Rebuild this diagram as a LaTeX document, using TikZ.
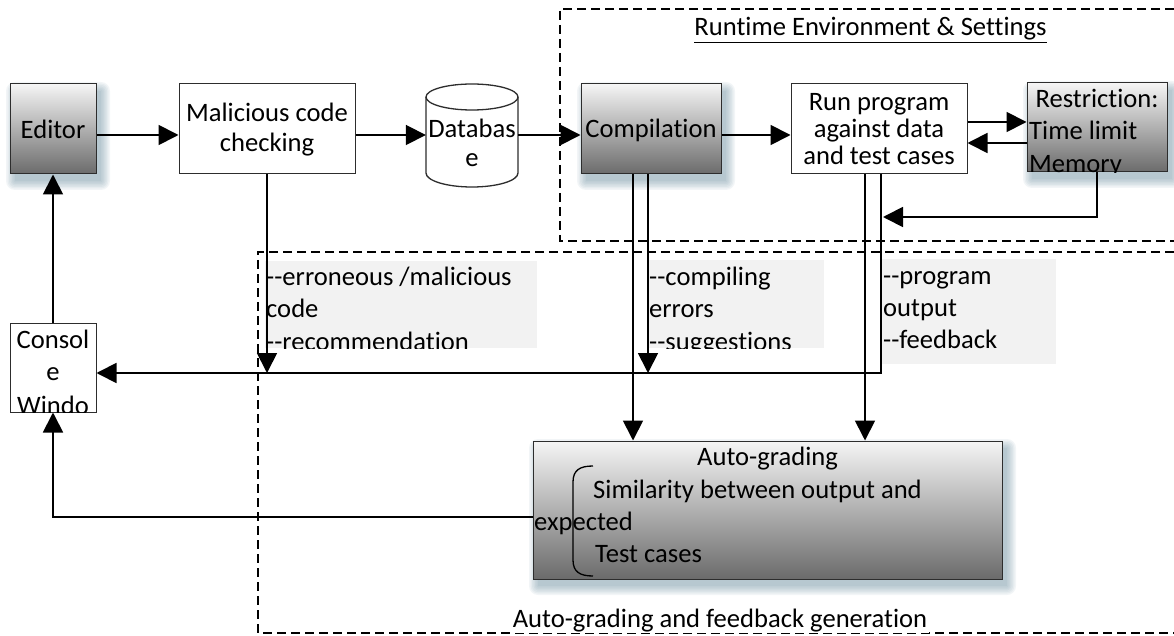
\documentclass[tikz,border=0pt]{standalone}
\usepackage{fontspec}
\setmainfont{Carlito}[Ligatures={TeXOff,CommonOff}]
\usetikzlibrary{arrows.meta,calc}

\definecolor{glow}{RGB}{90,130,150}
\definecolor{lblgray}{RGB}{242,242,242}
\definecolor{edge}{RGB}{45,45,45}

\tikzset{
  txt/.style={font=\fontsize{26.6}{31.5}\selectfont, inner sep=0pt},
  blk/.style={txt, draw=edge, line width=1pt, fill=white, rectangle},
  gblk/.style={blk, top color=white!96!black, bottom color=black!58},
  conn/.style={line width=1.8pt, -{Triangle[length=20pt,width=20pt]}},
  zone/.style={dash pattern=on 9pt off 5pt, line width=1.2pt},
  tag/.style={fill=lblgray, draw=none, rectangle, inner sep=0pt, anchor=north west},
}

% soft bluish drop shadow under a box given by its corners
\newcommand\glowshadow[4]{%
  \foreach \k in {0,1.5,...,9}{
    \fill[glow, opacity=0.075, rounded corners=\k pt]
      (#1+5-\k,#2+7-\k) rectangle (#3+5+\k,#4+7+\k);
  }}

\begin{document}
\begin{tikzpicture}[x=1pt,y=-1pt]
\useasboundingbox (0,0) rectangle (1174,636);
\fill[white] (0,0) rectangle (1174,636);

% dashed regions
\draw[zone] (1174,9) -| (560,241) -- (1174,241);
\draw[zone] (1174,252) -| (258,633) -- (1174,633);
\node[txt, anchor=base] (rtlabel) at (870.5,36) {\underline{Runtime Environment \& Settings}};
\node[txt, anchor=base, fill=white, inner sep=1.5pt] (aglabel) at (720,627) {Auto-grading and feedback generation};

% message panels
\node[tag, minimum width=272pt, minimum height=87pt] (n1) at (265,261) {};
\node[tag, minimum width=176pt, minimum height=88pt] (n2) at (648,260) {};
\node[tag, minimum width=174pt, minimum height=105pt] (n3) at (882,259) {};
\begin{scope}
  \clip (n1.north west) rectangle (n1.south east);
  \node[txt, anchor=base west] (n1a) at (266,285) {--erroneous /malicious};
  \node[txt, anchor=base west] (n1b) at (266,317) {code};
  \node[txt, anchor=base west] (n1c) at (266,350) {--recommendation};
\end{scope}
\begin{scope}
  \clip (n2.north west) rectangle (n2.south east);
  \node[txt, anchor=base west] (n2a) at (649,285) {--compiling};
  \node[txt, anchor=base west] (n2b) at (649,317) {errors};
  \node[txt, anchor=base west] (n2c) at (649,350) {--suggestions};
\end{scope}
\node[txt, anchor=base west] (n3a) at (883,284) {--program};
\node[txt, anchor=base west] (n3b) at (883,316) {output};
\node[txt, anchor=base west] (n3c) at (883,348) {--feedback};

% shadows of the shaded boxes
\glowshadow{10}{84}{96}{174}
\glowshadow{581}{84}{721}{174}
\glowshadow{1027}{83}{1167}{172}
\glowshadow{533}{441}{1002}{579}

% top row
\node[gblk, minimum width=86pt, minimum height=90pt] (editor) at (53,129) {\raisebox{-10pt}[0pt][0pt]{Editor}};
\node[blk, minimum width=176pt, minimum height=90pt] (mal) at (267,129) {};
\node[txt, anchor=base] (mal1) at (267,122) {Malicious code};
\node[txt, anchor=base] (mal2) at (267,152) {checking};

% database cylinder
\filldraw[fill=white, draw=edge, line width=1.3pt]
  (426,97) -- (426,173) arc[start angle=180, end angle=360, x radius=46pt, y radius=14pt]
  -- (518,97) arc[start angle=0, end angle=180, x radius=46pt, y radius=13pt] -- cycle;
\draw[edge, line width=1.3pt] (426,97) arc[start angle=180, end angle=360, x radius=46pt, y radius=13pt];
\node[rectangle, minimum width=92pt, minimum height=103pt, inner sep=0pt] (db) at (472,135.5) {};
\node[txt, anchor=base] (dbt1) at (472,138) {Databas};
\node[txt, anchor=base] (dbt2) at (472,167) {e};

\node[gblk, minimum width=140pt, minimum height=90pt] (comp) at (651,129) {\raisebox{-9pt}[0pt][0pt]{Compilation}};
\node[blk, minimum width=176pt, minimum height=90pt, align=center,
      font=\fontsize{26.6}{27}\selectfont] (run) at (879,129) {Run program\\against data\\and test cases};

\node[gblk, minimum width=140pt, minimum height=89pt] (restr) at (1097,127.5) {};
\begin{scope}
  \clip (restr.north west) rectangle (restr.south east);
  \node[txt, anchor=base] (rs1) at (1097,108) {Restriction:};
  \node[txt, anchor=base west] (rs2) at (1029,140) {Time limit};
  \node[txt, anchor=base west] (rs3) at (1029,173) {Memory};
\end{scope}

% console window
\node[blk, minimum width=86pt, minimum height=89pt] (console) at (53,367.5) {};
\begin{scope}
  \clip (console.north west) rectangle (console.south east);
  \node[txt, anchor=base] (cw1) at (53,348) {Consol};
  \node[txt, anchor=base] (cw2) at (53,380) {e};
  \node[txt, anchor=base] (cw3) at (53,414) {Windo};
\end{scope}

% auto-grading box
\node[gblk, minimum width=469pt, minimum height=138pt] (auto) at (767.5,510) {};
\begin{scope}
  \clip (auto.north west) rectangle (auto.south east);
  \node[txt, anchor=base] (ag1) at (767.5,465) {Auto-grading};
  \node[txt, anchor=base west] (ag2) at (593,498) {Similarity between output and};
  \node[txt, anchor=base west] (ag3) at (534,530) {expected};
  \node[txt, anchor=base west] (ag4) at (595,562) {Test cases};
  \draw[line width=1.3pt] (593,466) .. controls (580,466) and (573,470) .. (573,482)
    -- (573,560) .. controls (573,572) and (580,576) .. (593,576);
\end{scope}

% connector levels
\coordinate (row) at (0,135);
\coordinate (upper) at (0,122);
\coordinate (lower) at (0,143);
\coordinate (limy) at (0,217);
\coordinate (ret) at (0,373);
\coordinate (gy) at (0,517);
\coordinate (compA) at ([xshift=-18pt]comp.south);
\coordinate (compB) at ([xshift=-3pt]comp.south);
\coordinate (runA) at ([xshift=-14pt]run.south);
\coordinate (runB) at ([xshift=2pt]run.south);
\coordinate (limhit) at ($(runB |- limy)+(2,0)$);

% connectors
\draw[conn] (editor.east |- row) -- (mal.west |- row);
\draw[conn] (mal.east |- row) -- (db.west |- row);
\draw[conn] (db.east |- row) -- (comp.west |- row);
\draw[conn] (comp.east |- row) -- (run.west |- row);
\draw[conn] (run.east |- upper) -- (restr.west |- upper);
\draw[conn] (restr.west |- lower) -- (run.east |- lower);
\draw[conn] (restr.south) |- (limhit);
\draw[conn] (mal.south) -- (mal.south |- ret);
\draw[conn] (compA) -- (compA |- auto.north);
\draw[conn] (compB) -- (compB |- ret);
\draw[conn] (runA) -- (runA |- auto.north);
\draw[conn] (runB) |- (console.east |- ret);
\draw[conn] (console.north) -- (editor.south);
\draw[conn] (auto.west |- gy) -| (console.south);
\end{tikzpicture}
\end{document}
